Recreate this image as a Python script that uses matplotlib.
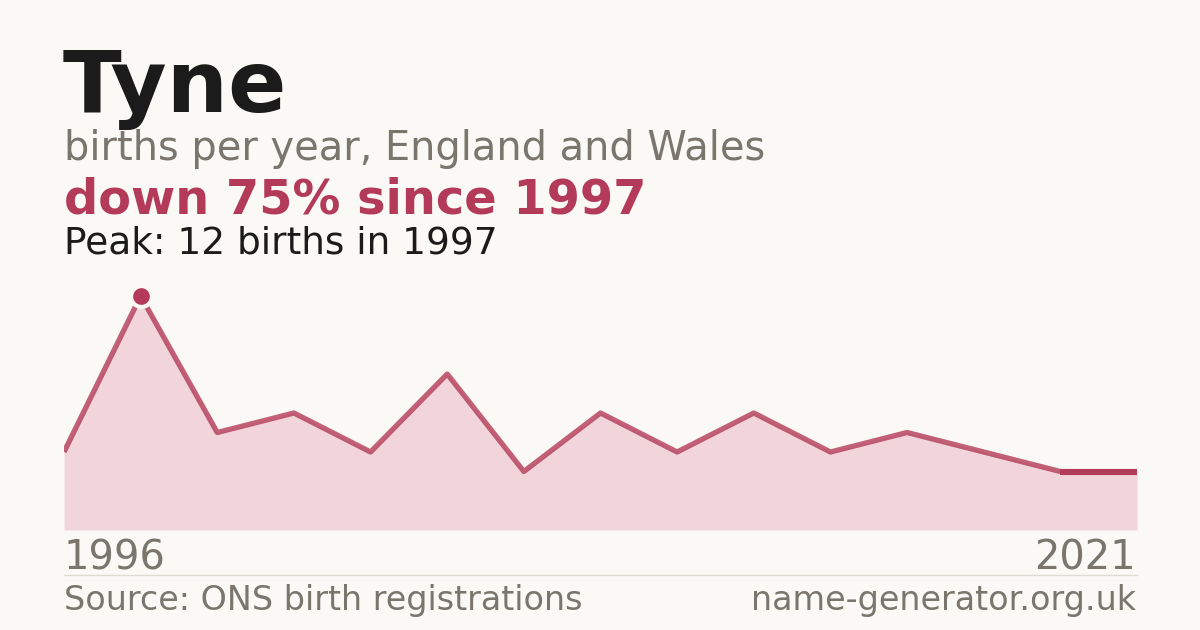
import matplotlib
matplotlib.use("Agg")
import matplotlib.pyplot as plt
import numpy as np

# data
values = [4, 12, 5, 6, 4, 8, 3, 6, 4, 6, 4, 5, 4, 3, 3]
start_label = "1996"
end_label = "2021"
peak_value = 12
peak_year = "1997"

BG = "#faf9f5"
DARK = "#1b1b1b"
GREY = "#7a756d"
RED = "#b33a58"
FILL = "#f1d5db"

W, H = 1200, 630
fig = plt.figure(figsize=(12, 6.3), dpi=100, facecolor=BG)
plt.rcParams['font.family'] = ['DejaVu Sans']

def fx(px):
    return px / W

def fy(py):
    return 1 - py / H

ax = fig.add_axes([fx(64), fy(530), fx(1137) - fx(64), (530 - 276.5) / H])
ax.set_facecolor(BG)
x = np.arange(len(values))
ax.fill_between(x, values, 0, color=FILL, lw=0, zorder=1)
ax.plot(x[:-1], values[:-1], color=RED, lw=3.8, alpha=0.8, solid_capstyle='butt', zorder=2)
ax.plot(x[-2:], values[-2:], color=RED, lw=4.4, solid_capstyle='butt', zorder=3)
pk = int(np.argmax(values))
ax.plot([x[pk]], [values[pk]], 'o', ms=15, color=RED, mec=BG, mew=3, zorder=4)
ax.set_xlim(0, len(values) - 1)
ax.set_ylim(0, 13)
ax.axis('off')

fig.text(fx(63), fy(112), "Tyne", fontsize=62, fontweight='bold', color=DARK, va='baseline', ha='left')
fig.text(fx(64), fy(160), "births per year, England and Wales", fontsize=28.7, color=GREY, va='baseline', ha='left')
fig.text(fx(64), fy(214), f"down 75% since {peak_year}", fontsize=34.5, fontweight='bold', color=RED, va='baseline', ha='left')
fig.text(fx(64), fy(253), f"Peak: {peak_value} births in {peak_year}", fontsize=27, color=DARK, va='baseline', ha='left')

fig.text(fx(64), fy(569), start_label, fontsize=28.8, color=GREY, va='baseline', ha='left')
fig.text(fx(1136), fy(569), end_label, fontsize=28.8, color=GREY, va='baseline', ha='right')

fig.add_artist(plt.Line2D([fx(64), fx(1137)], [fy(574.5), fy(574.5)], color="#dedbd4", lw=1))

fig.text(fx(64), fy(610), "Source: ONS birth registrations", fontsize=24, color=GREY, va='baseline', ha='left')
fig.text(fx(1136), fy(610), "name-generator.org.uk", fontsize=24, color=GREY, va='baseline', ha='right')

fig.savefig("out.png", dpi=100, facecolor=BG)
